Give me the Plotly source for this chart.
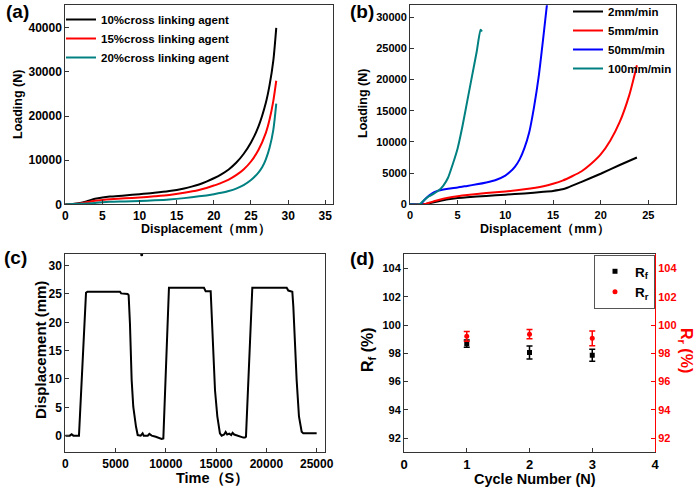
import plotly.graph_objects as go

# ---------------- data ----------------
# (a) loading vs displacement for cross-linking agent contents
a_names = ["10%cross linking agent", "15%cross linking agent", "20%cross linking agent"]
a10_x = [0, 1, 2, 3, 4, 5, 6, 8, 10, 12, 14, 16, 17, 18, 19, 20, 21, 22, 23, 24, 25, 26, 27, 27.5, 28, 28.4]
a10_y = [0, 80, 300, 750, 1250, 1550, 1750, 2000, 2300, 2600, 3000, 3600, 4000, 4500, 5150, 5900, 6800, 7900, 9400, 11400, 14000, 17600, 23000, 27000, 32500, 40000]
a15_x = [0, 1, 2, 3, 4, 5, 6, 8, 10, 12, 14, 16, 18, 19, 20, 21, 22, 23, 24, 25, 26, 27, 27.5, 28, 28.4]
a15_y = [0, 50, 200, 500, 800, 1000, 1150, 1350, 1550, 1800, 2100, 2600, 3250, 3700, 4250, 4850, 5600, 6600, 7900, 9700, 12300, 16200, 19200, 23400, 28000]
a20_x = [0, 2, 4, 5, 6, 8, 10, 12, 14, 16, 18, 20, 21, 22, 23, 24, 25, 26, 26.5, 27, 27.5, 28, 28.4]
a20_y = [0, 100, 300, 450, 550, 650, 750, 900, 1100, 1400, 1800, 2300, 2600, 3000, 3550, 4350, 5500, 7200, 8400, 10200, 12800, 16800, 22800]

# (b) loading vs displacement for loading rates
b_names = ["2mm/min", "5mm/min", "50mm/min", "100mm/min"]
b2_x = [0, 1.5, 2, 3, 4, 5, 6, 8, 10, 12, 14, 15, 16, 16.5, 18, 20, 22, 23.8]
b2_y = [0, 0, 150, 500, 800, 1000, 1150, 1350, 1550, 1750, 2000, 2150, 2400, 2650, 3600, 4900, 6300, 7500]
b5_x = [0, 1.5, 2, 3, 4, 5, 6, 8, 10, 12, 14, 15, 16, 17, 18, 19, 20, 21, 22, 23, 23.8]
b5_y = [0, 0, 250, 700, 1050, 1300, 1500, 1800, 2050, 2400, 2900, 3300, 3800, 4500, 5300, 6500, 8000, 10200, 13200, 17500, 22300]
b50_x = [0, 1.1, 1.5, 2, 2.5, 3, 4, 5, 6, 7, 8, 9, 10, 10.5, 11, 11.5, 12, 12.5, 13, 13.5, 14, 14.4]
b50_y = [0, 0, 700, 1400, 1900, 2200, 2500, 2700, 2950, 3200, 3500, 3900, 4600, 5200, 6000, 7200, 9000, 11500, 15500, 20500, 27000, 32500]
b100_x = [0, 1.0, 1.5, 2, 2.5, 3, 3.5, 4, 4.5, 5, 5.5, 6, 6.5, 7, 7.4, 7.55]
b100_y = [0, 0, 700, 1300, 1700, 2200, 3000, 4300, 6500, 9000, 12500, 16500, 20500, 24500, 28000, 27700]

# (c) displacement vs time (cyclic test)
c_t = [0, 450, 630, 800, 1360, 2060, 2200, 5440, 5550, 6200, 6300, 6430, 6600, 6760, 7030, 7200, 7500,
       7690, 7800, 8200, 8360, 8500, 8590, 9000, 9580, 9750, 10310, 13790, 13960, 14460, 14620, 14890,
       15120, 15380, 15550, 15800, 15950, 16100, 16310, 16500, 16640, 16800, 17710, 17870, 17970, 18600,
       22020, 22180, 22580, 22680, 23010, 23240, 23510, 23670, 25000]
c_d = [0, 0, 0.25, 0, 0, 25.2, 25.4, 25.4, 25.1, 25.0, 24.8, 19.8, 9.8, 5.1, 1.6, 0.1, 0,
       0.4, 0, 0, 0.3, 0, 0, -0.2, -0.6, -0.5, 26.1, 26.1, 25.5, 25.5, 19.8, 8.0,
       3.4, 0.4, 0, 0.2, 0.65, 0.2, 0.35, 0.1, 0.5, 0.2, -0.35, -0.35, -0.2, 26.1,
       26.1, 25.6, 25.4, 22.8, 9.8, 3.4, 0.7, 0.4, 0.4]
c_out_t = [7600]
c_out_d = [31.9]

# (d) shape fixity / recovery ratios
cycles = [1, 2, 3]
rf = [98.68, 98.06, 97.86]
rf_err = [0.26, 0.46, 0.42]
rr = [99.2, 99.35, 99.06]
rr_err = [0.35, 0.33, 0.52]

# ---------------- layout helpers ----------------
W, H = 700, 489
FONT = "Liberation Sans"


def fx(p):
    return p / W


def fy(p):
    return 1 - p / H


def axis(domain, rng, dtick=None, size=12, mirror=True, **kw):
    d = dict(domain=domain, range=rng, showline=True, linecolor="#333", linewidth=1,
             mirror=mirror, ticks="inside", ticklen=4, tickcolor="#333", showgrid=False,
             zeroline=False, tickfont=dict(family=FONT, size=size, color="black", weight="bold"))
    if dtick is not None:
        d["dtick"] = dtick
        d["tick0"] = 0
    d.update(kw)
    return d


fig = go.Figure()

# (a)
for xs, ys, nm, col in zip([a10_x, a15_x, a20_x], [a10_y, a15_y, a20_y], a_names,
                           ["#000000", "#ff0000", "#008080"]):
    fig.add_trace(go.Scatter(x=xs, y=ys, name=nm, mode="lines", xaxis="x", yaxis="y",
                             line=dict(color=col, width=2, shape="spline", smoothing=0.8),
                             legend="legend"))
# (b)
for xs, ys, nm, col in zip([b2_x, b5_x, b50_x, b100_x], [b2_y, b5_y, b50_y, b100_y], b_names,
                           ["#000000", "#ff0000", "#0000ff", "#008080"]):
    fig.add_trace(go.Scatter(x=xs, y=ys, name=nm, mode="lines", xaxis="x2", yaxis="y2",
                             line=dict(color=col, width=2, shape="spline", smoothing=0.6),
                             legend="legend2"))
# (c)
fig.add_trace(go.Scatter(x=c_t, y=c_d, mode="lines", xaxis="x3", yaxis="y3", showlegend=False,
                         line=dict(color="black", width=2)))
fig.add_trace(go.Scatter(x=c_out_t, y=c_out_d, mode="markers", xaxis="x3", yaxis="y3",
                         showlegend=False, cliponaxis=False,
                         marker=dict(color="black", size=3)))
# (d)
fig.add_trace(go.Scatter(x=cycles, y=rf, mode="markers", name="R<sub>f</sub>", xaxis="x4", yaxis="y4",
                         marker=dict(color="black", symbol="square", size=5),
                         error_y=dict(type="data", array=rf_err, color="black", thickness=1.5, width=3),
                         legend="legend3"))
fig.add_trace(go.Scatter(x=cycles, y=rr, mode="markers", name="R<sub>r</sub>", xaxis="x4", yaxis="y5",
                         marker=dict(color="#ff0000", symbol="circle", size=5),
                         error_y=dict(type="data", array=rr_err, color="#ff0000", thickness=1.5, width=3),
                         legend="legend3"))

dom_a_x = [fx(65.3), fx(332.7)]
dom_top_y = [fy(204.3), fy(5.3)]
dom_b_x = [fx(410), fx(676)]
dom_c_x = [fx(65.3), fx(325)]
dom_bot_y = [fy(452.3), fy(254.3)]
dom_d_x = [fx(404), fx(655)]

legfont = dict(family=FONT, size=11.5, color="black", weight="bold")

fig.update_layout(
    width=W, height=H, margin=dict(l=0, r=0, t=0, b=0, pad=0, autoexpand=False),
    paper_bgcolor="white", plot_bgcolor="white",
    font=dict(family=FONT, color="black"),
    xaxis=axis(dom_a_x, [0, 36], 5, anchor="y"),
    yaxis=axis(dom_top_y, [0, 45100], 10000, anchor="x", tickformat="d"),
    xaxis2=axis(dom_b_x, [0, 27.9], 5, size=11, anchor="y2"),
    yaxis2=axis(dom_top_y, [0, 31900], 5000, size=11, anchor="x2", tickformat="d"),
    xaxis3=axis(dom_c_x, [0, 25830], 5000, anchor="y3", tickformat="d"),
    yaxis3=axis(dom_bot_y, [-2.94, 32], 5, anchor="x3"),
    xaxis4=axis(dom_d_x, [0, 4], 1, size=13, anchor="y4"),
    yaxis4=axis(dom_bot_y, [91, 105], 2, size=11, anchor="x4", mirror=False, tick0=92),
    yaxis5=dict(domain=dom_bot_y, range=[91, 105], dtick=2, tick0=92, overlaying="y4", side="right",
                anchor="x4", showline=True, linecolor="#ff0000", linewidth=1, ticks="inside",
                ticklen=4, tickcolor="#ff0000", showgrid=False, zeroline=False,
                tickfont=dict(family=FONT, size=11, color="#ff0000", weight="bold")),
    legend=dict(x=fx(61), y=fy(5), xanchor="left", yanchor="top", bgcolor="rgba(0,0,0,0)",
                font=legfont, tracegroupgap=0),
    legend2=dict(x=fx(568), y=fy(-3), xanchor="left", yanchor="top", bgcolor="rgba(0,0,0,0)",
                 font=legfont, tracegroupgap=0),
    legend3=dict(x=fx(594), y=fy(255), xanchor="left", yanchor="top", bgcolor="white",
                 bordercolor="#555", borderwidth=1,
                 font=dict(family=FONT, size=13.5, color="black", weight="bold")),
)

ann = []


def label(text, x, y, size, angle=0, color="black"):
    ann.append(dict(text=text, x=fx(x), y=fy(y), xref="paper", yref="paper", showarrow=False,
                    xanchor="center", yanchor="middle", textangle=angle,
                    font=dict(family=FONT, size=size, color=color, weight="bold")))


# panel letters
label("(a)", 17, 11, 19)
label("(b)", 362, 11, 19)
label("(c)", 15, 257, 19)
label("(d)", 362, 258, 19)
# axis titles
label("Loading (N)", 18, 105, 12.5, -90)
label("Displacement（mm）", 206, 229, 12.5)
label("Loading (N)", 363, 104, 12.5, -90)
label("Displacement（mm）", 545, 229, 12.5)
label("Displacement (mm)", 40, 350, 15, -90)
label("Time（S）", 212, 478, 14.5)
label("R<sub>f</sub> (%)", 368, 350, 16, -90)
label("Cycle Number (N)", 535, 479, 14.5)
label("R<sub>r</sub> (%)", 686, 350, 16, 90, "#ff0000")

fig.update_layout(annotations=ann)
fig.write_html("out.html", config={"displayModeBar": False},
               post_script="document.body.style.margin='0px';document.body.style.overflow='hidden';")
